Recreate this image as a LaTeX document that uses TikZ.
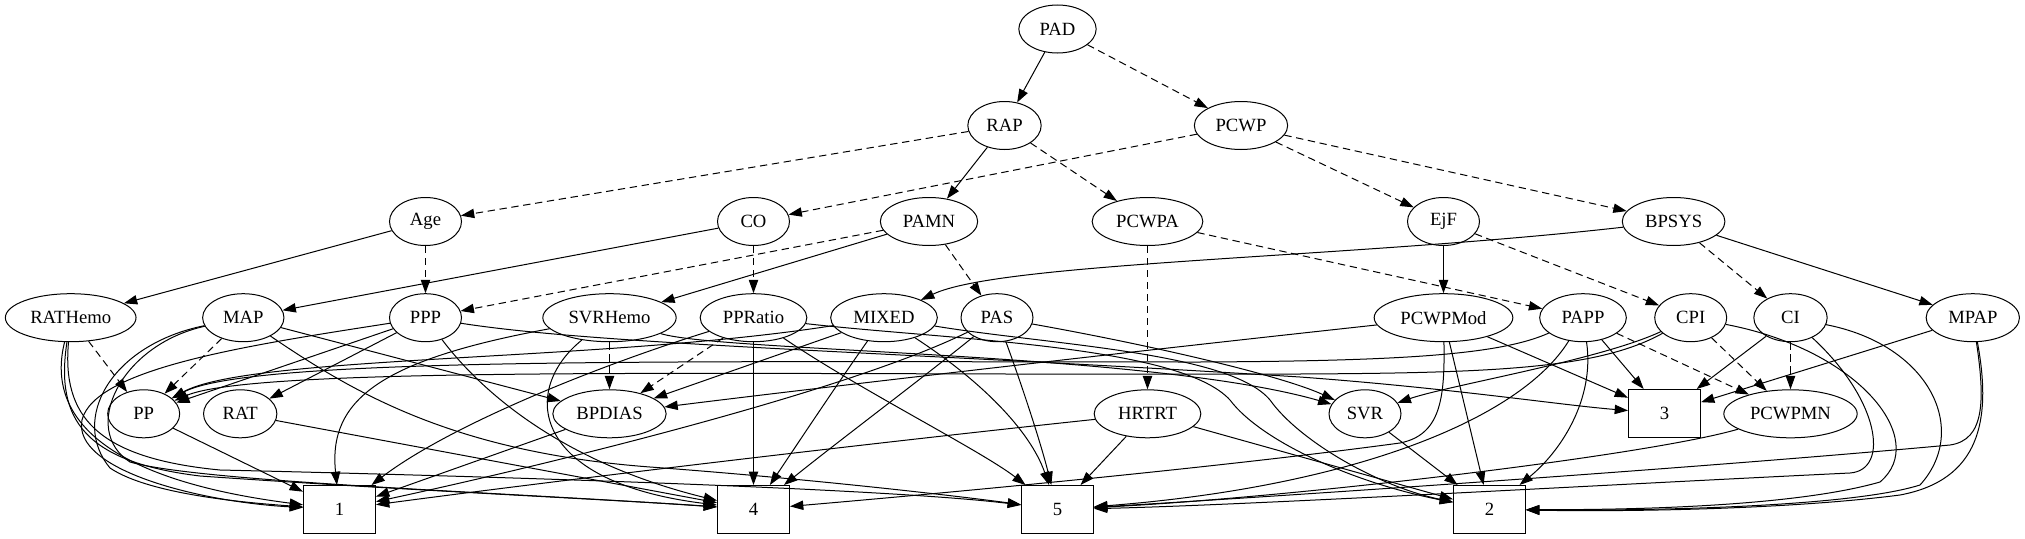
\documentclass[tikz,border=0pt]{standalone}
\usepackage{fontspec}
\setmainfont{Liberation Serif}
\usetikzlibrary{shapes.geometric,arrows.meta}
\begin{document}
\begin{tikzpicture}[x=0.75pt,y=-0.75pt,
  el/.style={draw, ellipse, line width=0.75pt, minimum height=36pt, inner sep=1pt, font=\fontsize{14}{16}\selectfont},
  bx/.style={draw, rectangle, line width=0.75pt, minimum width=54pt, minimum height=36pt, inner sep=1pt, font=\fontsize{14}{16}\selectfont},
  ar/.style={line width=0.75pt, -{Triangle[length=10pt,width=7pt]}},
  da/.style={dash pattern=on 5.5pt off 3.5pt}]
\useasboundingbox (0,0) rectangle (2025,539);
% rank 1-3
\node[el, minimum width=58pt] (PAD) at (1057.5,29) {PAD};
\node[el, minimum width=55pt] (RAP) at (1004.5,125.5) {RAP};
\node[el, minimum width=70pt] (PCWP) at (1241,125.5) {PCWP};
\node[el, minimum width=54pt] (Age) at (425.5,221.5) {Age};
\node[el, minimum width=54pt] (CO) at (753.5,221.5) {CO};
\node[el, minimum width=73pt] (PAMN) at (929,221.5) {PAMN};
\node[el, minimum width=83pt] (PCWPA) at (1147.5,221.5) {PCWPA};
\node[el, minimum width=54pt] (EjF) at (1443.5,221.5) {EjF};
\node[el, minimum width=77pt] (BPSYS) at (1673.6,221.5) {BPSYS};
% rank 4
\node[el, minimum width=98pt] (RATHemo) at (70.7,317.7) {RATHemo};
\node[el, minimum width=61pt] (MAP) at (243.3,317.7) {MAP};
\node[el, minimum width=54pt] (PPP) at (425.5,317.7) {PPP};
\node[el, minimum width=100pt] (SVRHemo) at (609.5,317.7) {SVRHemo};
\node[el, minimum width=80pt] (PPRatio) at (753.5,317.7) {PPRatio};
\node[el, minimum width=80pt] (MIXED) at (884,317.7) {MIXED};
\node[el, minimum width=54pt] (PAS) at (997,317.7) {PAS};
\node[el, minimum width=104pt] (PCWPMod) at (1443.5,317.7) {PCWPMod};
\node[el, minimum width=65pt] (PAPP) at (1583,317.7) {PAPP};
\node[el, minimum width=54pt] (CPI) at (1690.7,317.7) {CPI};
\node[el, minimum width=55pt] (CI) at (1790.5,317.7) {CI};
\node[el, minimum width=70pt] (MPAP) at (1972.8,317.7) {MPAP};
% rank 5
\node[el, minimum width=54pt] (PP) at (143.7,413.8) {PP};
\node[el, minimum width=55pt] (RAT) at (240.2,413.8) {RAT};
\node[el, minimum width=85pt] (BPDIAS) at (609.5,413.8) {BPDIAS};
\node[el, minimum width=80pt] (HRTRT) at (1147.5,413.8) {HRTRT};
\node[el, minimum width=54pt] (SVR) at (1365,413.8) {SVR};
\node[bx] (b3) at (1664.5,413.5) {3};
\node[el, minimum width=100pt] (PCWPMN) at (1790.5,413.8) {PCWPMN};
% rank 6
\node[bx] (b1) at (339.5,509.5) {1};
\node[bx] (b4) at (753.5,509.5) {4};
\node[bx] (b5) at (1057.5,509.5) {5};
\node[bx] (b2) at (1489.5,509.5) {2};

% top edges
\draw[ar] (PAD) -- (RAP);
\draw[ar,da] (PAD) -- (PCWP);
\draw[ar,da] (RAP) -- (Age);
\draw[ar] (RAP) -- (PAMN);
\draw[ar,da] (RAP) -- (PCWPA);
\draw[ar,da] (PCWP) -- (CO);
\draw[ar,da] (PCWP) -- (EjF);
\draw[ar,da] (PCWP) -- (BPSYS);
\draw[ar] (Age) -- (RATHemo);
\draw[ar,da] (Age) -- (PPP);
\draw[ar] (CO) -- (MAP);
\draw[ar,da] (CO) -- (PPRatio);
\draw[ar,da] (PAMN) -- (PPP);
\draw[ar] (PAMN) -- (SVRHemo);
\draw[ar,da] (PAMN) -- (PAS);
\draw[ar,da] (PCWPA) -- (HRTRT);
\draw[ar,da] (PCWPA) -- (PAPP);
\draw[ar] (EjF) -- (PCWPMod);
\draw[ar,da] (EjF) -- (CPI);
\draw[ar] (BPSYS) .. controls (1350,258) and (1000,262) .. (MIXED);
\draw[ar,da] (BPSYS) -- (CI);
\draw[ar] (BPSYS) -- (MPAP);

% RATHemo
\draw[ar,da] (RATHemo) -- (PP);
\draw[ar] (RATHemo) .. controls (45,420) and (110,480) .. (b1);
\draw[ar] (RATHemo) .. controls (55,420) and (85,462) .. (200,476) .. controls (400,490) and (620,500) .. (b4);
\draw[ar] (RATHemo) .. controls (62,415) and (95,458) .. (220,470) .. controls (560,478) and (900,490) .. (b5);
% MAP
\draw[ar,da] (MAP) -- (PP);
\draw[ar] (MAP) -- (BPDIAS);
\draw[ar] (MAP) .. controls (110,345) and (70,420) .. (110,468) .. controls (150,495) and (250,503) .. (b1);
\draw[ar] (MAP) .. controls (120,345) and (80,430) .. (130,462) .. controls (200,482) and (500,492) .. (b4);
\draw[ar] (MAP) .. controls (350,390) and (450,452) .. (650,467) .. controls (800,478) and (950,495) .. (b5);
% PPP
\draw[ar] (PPP) -- (PP);
\draw[ar] (PPP) -- (RAT);
\draw[ar] (PPP) .. controls (250,345) and (95,368) .. (82,420) .. controls (72,470) and (200,502) .. (b1);
\draw[ar] (PPP) .. controls (480,390) and (560,462) .. (b4);
\draw[ar] (PPP) .. controls (600,345) and (900,352) .. (1300,377) .. controls (1450,388) and (1560,405) .. (b3);
% SVRHemo
\draw[ar,da] (SVRHemo) -- (BPDIAS);
\draw[ar] (SVRHemo) .. controls (380,360) and (328,400) .. (b1);
\draw[ar] (SVRHemo) .. controls (520,390) and (530,482) .. (b4);
\draw[ar] (SVRHemo) .. controls (720,352) and (1150,352) .. (SVR);
% PPRatio
\draw[ar,da] (PPRatio) -- (BPDIAS);
\draw[ar] (PPRatio) -- (b4);
\draw[ar] (PPRatio) .. controls (860,390) and (980,450) .. (b5);
\draw[ar] (PPRatio) .. controls (600,365) and (450,425) .. (b1);
\draw[ar] (PPRatio) .. controls (950,340) and (1180,345) .. (1230,400) .. controls (1260,440) and (1350,482) .. (b2);
% MIXED
\draw[ar] (MIXED) -- (BPDIAS);
\draw[ar] (MIXED) .. controls (600,362) and (250,355) .. (PP);
\draw[ar] (MIXED) .. controls (840,380) and (800,440) .. (b4);
\draw[ar] (MIXED) .. controls (980,380) and (1030,430) .. (b5);
\draw[ar] (MIXED) .. controls (1050,345) and (1230,352) .. (1270,400) .. controls (1300,442) and (1380,487) .. (b2);
% PAS
\draw[ar] (PAS) .. controls (850,390) and (560,462) .. (b1);
\draw[ar] (PAS) .. controls (920,380) and (840,440) .. (b4);
\draw[ar] (PAS) .. controls (1020,380) and (1040,440) .. (b5);
\draw[ar] (PAS) .. controls (1150,345) and (1280,375) .. (SVR);
% PCWPMod
\draw[ar] (PCWPMod) .. controls (1100,355) and (800,390) .. (BPDIAS);
\draw[ar] (PCWPMod) -- (b3);
\draw[ar] (PCWPMod) -- (b2);
\draw[ar] (PCWPMod) .. controls (1445,400) and (1440,435) .. (1400,443) .. controls (1200,470) and (900,497) .. (b4);
% PAPP
\draw[ar] (PAPP) .. controls (1500,355) and (1400,361) .. (1200,362) .. controls (700,362) and (250,356) .. (PP);
\draw[ar] (PAPP) -- (b3);
\draw[ar] (PAPP) .. controls (1595,400) and (1560,452) .. (b2);
\draw[ar,da] (PAPP) -- (PCWPMN);
\draw[ar] (PAPP) .. controls (1520,420) and (1350,487) .. (b5);
% CPI
\draw[ar] (CPI) .. controls (1600,360) and (1450,385) .. (SVR);
\draw[ar] (CPI) .. controls (1600,368) and (1500,373) .. (1300,374) .. controls (800,376) and (260,364) .. (PP);
\draw[ar,da] (CPI) -- (PCWPMN);
\draw[ar] (CPI) .. controls (1860,350) and (1930,440) .. (1880,482) .. controls (1800,505) and (1650,510) .. (b2);
% CI
\draw[ar] (CI) -- (b3);
\draw[ar,da] (CI) -- (PCWPMN);
\draw[ar] (CI) .. controls (1930,345) and (1970,430) .. (1920,485) .. controls (1850,507) and (1650,511) .. (b2);
\draw[ar] (CI) .. controls (1880,400) and (1890,470) .. (1850,473) .. controls (1600,485) and (1250,505) .. (b5);
% MPAP
\draw[ar] (MPAP) -- (b3);
\draw[ar] (MPAP) .. controls (1985,400) and (1985,440) .. (1950,445) .. controls (1700,468) and (1300,495) .. (b5);
\draw[ar] (MPAP) .. controls (1992,420) and (1980,480) .. (1900,495) .. controls (1800,508) and (1650,512) .. (b2);
% rank 5
\draw[ar] (PP) -- (b1);
\draw[ar] (RAT) -- (b4);
\draw[ar] (BPDIAS) -- (b1);
\draw[ar] (HRTRT) .. controls (900,440) and (600,475) .. (b1);
\draw[ar] (HRTRT) -- (b5);
\draw[ar] (HRTRT) -- (b2);
\draw[ar] (SVR) -- (b2);
\draw[ar] (PCWPMN) .. controls (1650,455) and (1300,497) .. (b5);
\end{tikzpicture}
\end{document}
